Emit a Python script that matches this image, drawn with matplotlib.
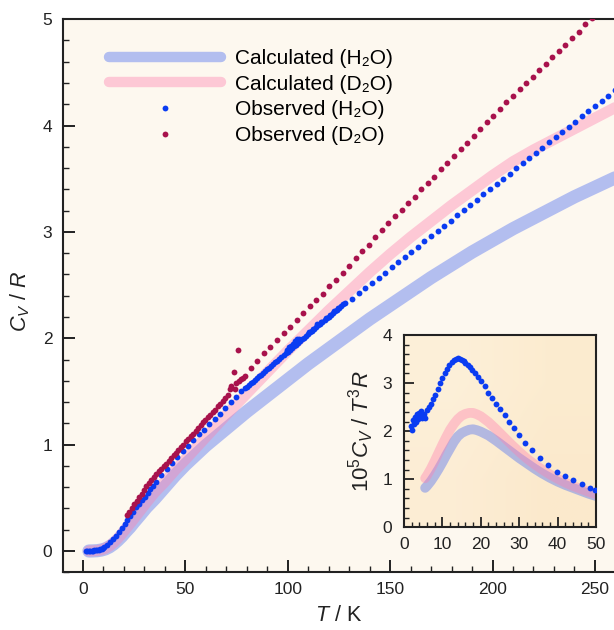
import numpy as np
import matplotlib
matplotlib.use('Agg')
import matplotlib.pyplot as plt
from matplotlib.lines import Line2D
from matplotlib.ticker import MultipleLocator

plt.rcParams['font.family'] = ['Liberation Sans', 'DejaVu Sans']
plt.rcParams['mathtext.fontset'] = 'custom'
plt.rcParams['mathtext.rm'] = 'Liberation Sans'
plt.rcParams['mathtext.it'] = 'Liberation Sans:italic'
plt.rcParams['mathtext.bf'] = 'Liberation Sans:bold'

# ---- main panel: Cv/R vs T ----
calc_T = [3, 5, 7, 9, 11, 13, 15, 17, 19, 21, 23, 25, 28, 31, 35, 40, 45, 50, 60, 70, 80, 90,
          100, 110, 120, 130, 140, 150, 160, 170, 180, 190, 200, 210, 220, 230, 240, 250, 260]
calc_h2o = [0.000, 0.001, 0.003, 0.009, 0.020, 0.039, 0.066, 0.100, 0.138, 0.183, 0.224, 0.272,
            0.34, 0.41, 0.49, 0.60, 0.71, 0.81, 0.99, 1.15, 1.31, 1.46, 1.61, 1.76, 1.90, 2.04,
            2.18, 2.31, 2.44, 2.57, 2.69, 2.81, 2.92, 3.03, 3.13, 3.23, 3.33, 3.42, 3.51]
calc_d2o = [0.000, 0.001, 0.004, 0.011, 0.025, 0.047, 0.078, 0.117, 0.161, 0.209, 0.256, 0.305,
            0.38, 0.455, 0.55, 0.65, 0.76, 0.86, 1.07, 1.28, 1.48, 1.68, 1.88, 2.07, 2.26, 2.44,
            2.62, 2.79, 2.95, 3.10, 3.25, 3.39, 3.53, 3.66, 3.77, 3.87, 3.97, 4.07, 4.17]

obs_h2o_T = [1.5, 2.2, 2.9, 3.6, 4.3, 5.0, 5.7, 6.4, 7.1, 7.8, 8.5, 9.2, 9.9,
             10.6, 12.0, 13.4, 14.8, 16.2, 17.6, 19.0, 20.4, 21.8, 23.2, 24.6, 26.0, 27.4, 28.8,
             30.2, 31.6, 33.0, 34.4, 35.8, 38.4, 41.0, 43.6, 46.2, 48.8, 51.4, 54.0, 56.6, 59.2,
             61.8, 64.4, 67.0, 69.6, 72.2, 74.8, 77.4,
             79.2, 80, 81, 82, 83, 84, 85, 86, 87, 88, 89, 90, 91, 92, 93, 94, 95, 96, 97, 98, 99,
             100, 101, 102, 103, 104, 105, 106, 107, 108, 109, 110, 111, 112, 113, 114, 115, 116,
             117, 118, 119, 120, 121, 122, 123, 124, 125, 126, 127, 128,
             99.5, 100.5, 101.5, 102.5, 103.5, 104.5, 105.5, 110.5, 112.5, 114.5, 116.5, 118.5,
             120.5, 122.5, 124.5,
             131.6, 134.8, 138.0, 141.2, 144.4, 147.6, 150.8, 154.0, 157.2, 160.4, 163.6, 166.8,
             170.0, 173.2, 176.4, 179.6, 182.8, 186.0, 189.2, 192.4, 195.6, 198.8, 202.0, 205.2,
             208.4, 211.6, 214.8, 218.0, 221.2, 224.4, 227.6, 230.8, 234.0, 237.2, 240.4, 243.6,
             246.8, 250.0, 253.2, 256.4, 259.6]
obs_h2o = [0.000, 0.000, 0.001, 0.001, 0.002, 0.003, 0.005, 0.007, 0.009, 0.013, 0.017, 0.023, 0.030,
           0.038, 0.059, 0.084, 0.113, 0.145, 0.179, 0.215, 0.254, 0.296, 0.332, 0.369, 0.413, 0.444,
           0.478, 0.507, 0.543, 0.582, 0.611, 0.647, 0.71, 0.77, 0.83, 0.88, 0.94, 0.99, 1.04, 1.10,
           1.14, 1.19, 1.24, 1.29, 1.34, 1.40, 1.45, 1.50,
           1.530, 1.543, 1.560, 1.576, 1.593, 1.609, 1.626, 1.642, 1.659, 1.675, 1.692, 1.708, 1.725,
           1.741, 1.758, 1.774, 1.791, 1.807, 1.824, 1.840, 1.857, 1.873, 1.890, 1.906, 1.923, 1.939,
           1.956, 1.972, 1.989, 2.005, 2.022, 2.038, 2.055, 2.071, 2.088, 2.104, 2.121, 2.137, 2.154,
           2.170, 2.187, 2.203, 2.220, 2.236, 2.253, 2.269, 2.286, 2.302, 2.319, 2.335,
           1.89, 1.92, 1.93, 1.95, 1.97, 1.99, 1.99, 2.06, 2.09, 2.13, 2.15, 2.19, 2.22, 2.26, 2.28,
           2.373, 2.422, 2.471, 2.520, 2.569, 2.618, 2.667, 2.716, 2.765, 2.813, 2.862, 2.911, 2.960,
           3.009, 3.058, 3.107, 3.156, 3.205, 3.254, 3.303, 3.352, 3.401, 3.450, 3.499, 3.548, 3.597,
           3.645, 3.694, 3.743, 3.792, 3.841, 3.890, 3.939, 3.988, 4.037, 4.086, 4.135, 4.184, 4.233,
           4.281, 4.330]

obs_d2o_T = [21.5, 22.7, 23.9, 25.1, 26.3, 27.5, 28.7, 29.9, 31.1, 32.3, 33.5, 34.7, 35.9, 37.1,
             38.3, 39.5, 40.7, 41.9, 43.1, 44.3, 45.5, 46.7, 47.9, 49.1, 50.3, 51.5, 52.7, 53.9,
             55.1, 56.3, 57.5, 58.7, 59.9, 61.1, 62.3, 63.5, 64.7, 65.9, 67.1, 68.3, 69.5, 70.7,
             71.9, 72.5, 73.8, 74.3, 75.0, 76.0, 76.4, 77.2, 78.0, 79.0,
             82.0, 85.2, 88.4, 91.6, 94.8, 98.0, 101.2, 104.4, 107.6, 110.8, 114.0, 117.2, 120.4,
             123.6, 126.8, 130.0, 133.2, 136.4, 139.6, 142.8, 146.0, 149.2, 152.4, 155.6, 158.8,
             162.0, 165.2, 168.4, 171.6, 174.8, 178.0, 181.2, 184.4, 187.6, 190.8, 194.0, 197.2,
             200.4, 203.6, 206.8, 210.0, 213.2, 216.4, 219.6, 222.8, 226.0, 229.2, 232.4, 235.6,
             238.8, 242.0, 245.2, 248.4]
obs_d2o = [0.34, 0.37, 0.40, 0.44, 0.47, 0.51, 0.54, 0.57, 0.61, 0.64, 0.67, 0.70, 0.72, 0.75,
           0.77, 0.80, 0.82, 0.85, 0.87, 0.90, 0.92, 0.95, 0.98, 1.00, 1.03, 1.05, 1.08, 1.10,
           1.13, 1.16, 1.18, 1.21, 1.23, 1.26, 1.28, 1.31, 1.33, 1.36, 1.38, 1.41, 1.44, 1.47,
           1.52, 1.55, 1.68, 1.52, 1.58, 1.89, 1.60, 1.62, 1.63, 1.65,
           1.72, 1.79, 1.86, 1.92, 1.98, 2.05, 2.11, 2.17, 2.24, 2.30, 2.36, 2.42, 2.49,
           2.55, 2.61, 2.68, 2.75, 2.82, 2.88, 2.95, 3.02, 3.08, 3.15, 3.21, 3.27,
           3.33, 3.40, 3.46, 3.52, 3.59, 3.65, 3.71, 3.78, 3.84, 3.90, 3.97, 4.03,
           4.09, 4.16, 4.22, 4.28, 4.34, 4.40, 4.46, 4.52, 4.58, 4.64, 4.70, 4.76,
           4.82, 4.88, 4.95, 5.01]

# ---- inset: 1e5 Cv / T^3 R vs T ----
in_calc_T = [5.5, 6, 7, 8, 9, 10, 11, 12, 13, 14, 15, 16, 17, 18, 19, 20, 22, 24, 26, 28, 30,
             32, 34, 36, 38, 40, 42, 44, 46, 48, 50]
in_calc_h2o = [0.82, 0.86, 0.96, 1.08, 1.21, 1.35, 1.50, 1.64, 1.78, 1.89, 1.96, 2.00, 2.03, 2.04,
               2.02, 1.99, 1.91, 1.80, 1.68, 1.56, 1.44, 1.33, 1.22, 1.12, 1.03, 0.95, 0.88, 0.82,
               0.76, 0.70, 0.65]
in_calc_d2o = [1.02, 1.08, 1.22, 1.38, 1.55, 1.72, 1.88, 2.03, 2.15, 2.25, 2.32, 2.36, 2.38, 2.38,
               2.35, 2.31, 2.19, 2.04, 1.88, 1.72, 1.57, 1.43, 1.31, 1.20, 1.10, 1.01, 0.93, 0.86,
               0.80, 0.74, 0.69]
in_obs_T = [1.8, 2.0, 2.3, 2.5, 2.8, 3.0, 3.3, 3.6, 3.9, 4.2, 4.5, 4.8, 5.1, 5.5, 5.9, 6.4, 7.0,
            7.6, 8.2, 8.8, 9.4, 10.0, 10.6, 11.2, 11.8, 12.4, 13.0, 13.5, 14.0, 14.5, 15.0, 15.5,
            16.0, 16.6, 17.2, 17.8, 18.5, 19.2, 20.0, 21.0, 22.0, 23.0, 24.0, 25.0, 26.2, 27.4,
            28.6, 30.0, 31.6, 33.4, 35.4, 37.6, 39.8, 41.9, 44.1, 46.3, 48.5, 49.7]
in_obs_h2o = [2.10, 2.03, 2.24, 2.15, 2.30, 2.20, 2.35, 2.25, 2.38, 2.30, 2.42, 2.28, 2.36, 2.27,
              2.44, 2.50, 2.57, 2.66, 2.76, 2.88, 3.00, 3.10, 3.20, 3.29, 3.37, 3.44, 3.48, 3.51,
              3.52, 3.51, 3.49, 3.46, 3.42, 3.38, 3.33, 3.27, 3.20, 3.12, 3.04, 2.93, 2.80, 2.68,
              2.56, 2.46, 2.33, 2.20, 2.06, 1.92, 1.76, 1.61, 1.45, 1.29, 1.16, 1.06, 0.98, 0.90,
              0.82, 0.78]

lav_c, lav_a = '#5a78f0', 0.45
pink_c, pink_a = '#ff80b0', 0.40
blue_c = '#0a3cf2'
red_c = '#a8124c'
ink = '#222222'

fig = plt.figure(figsize=(6.14, 6.30), dpi=100)
ax = fig.add_axes([0.1021, 0.0916, 0.8979, 0.878])
ax.set_facecolor('#fdf8ef')

ax.plot(calc_T, calc_h2o, color=lav_c, alpha=lav_a, lw=9.5, solid_capstyle='round', zorder=2)
ax.plot(calc_T, calc_d2o, color=pink_c, alpha=pink_a, lw=8, solid_capstyle='round', zorder=2)
ax.plot(obs_h2o_T, obs_h2o, 'o', ms=4.2, color=blue_c, mec='none', zorder=3)
ax.plot(obs_d2o_T, obs_d2o, 'o', ms=4.2, color=red_c, mec='none', zorder=3)

ax.set_xlim(-9.8, 259.3)
ax.set_ylim(-0.2, 5.0)
ax.xaxis.set_major_locator(MultipleLocator(50))
ax.xaxis.set_minor_locator(MultipleLocator(10))
ax.yaxis.set_major_locator(MultipleLocator(1))
ax.yaxis.set_minor_locator(MultipleLocator(0.2))
ax.tick_params(which='both', direction='in', top=False, right=False, colors=ink,
               labelsize=12.5, width=1.4)
ax.tick_params(which='major', length=8.6)
ax.tick_params(which='minor', length=4.3, width=1.0)
ax.tick_params(axis='x', pad=7)
ax.tick_params(axis='y', pad=7.5)
for s in ['left', 'bottom', 'top']:
    ax.spines[s].set_linewidth(1.5)
    ax.spines[s].set_color(ink)
ax.spines['right'].set_visible(False)

ax.set_xlabel(r'$T$ / K', fontsize=15.5, labelpad=6, color=ink)
ax.set_ylabel(r'$C_V$ / $R$', fontsize=15.5, color=ink)
ax.yaxis.set_label_coords(-0.056, 0.49)

handles = [
    Line2D([], [], color=lav_c, alpha=lav_a, lw=7.5, solid_capstyle='round'),
    Line2D([], [], color=pink_c, alpha=pink_a, lw=7.5, solid_capstyle='round'),
    Line2D([], [], ls='none', marker='o', ms=4.2, color=blue_c, mec='none'),
    Line2D([], [], ls='none', marker='o', ms=4.2, color=red_c, mec='none'),
]
labels = ['Calculated (H\u2082O)', 'Calculated (D\u2082O)', 'Observed (H\u2082O)', 'Observed (D\u2082O)']
ax.legend(handles, labels, loc='upper left', bbox_to_anchor=(0.084, 0.946), frameon=False,
          fontsize=15, handlelength=5.4, handletextpad=0.67, labelspacing=0.32,
          borderpad=0, borderaxespad=0, numpoints=1)

# inset
axin = fig.add_axes([404 / 614, (630 - 527.3) / 630, 192 / 614, 192.3 / 630])
grad = np.array([[[0.990, 0.930, 0.835], [0.985, 0.915, 0.800]],
                 [[0.992, 0.940, 0.850], [0.988, 0.925, 0.815]]])
axin.imshow(grad, extent=[0, 50, 0, 4], aspect='auto', origin='lower',
            interpolation='bilinear', zorder=0)
axin.plot(in_calc_T, in_calc_h2o, color=lav_c, alpha=lav_a, lw=7, solid_capstyle='round', zorder=2)
axin.plot(in_calc_T, in_calc_d2o, color=pink_c, alpha=pink_a, lw=7, solid_capstyle='round', zorder=2)
axin.plot(in_obs_T, in_obs_h2o, 'o', ms=4.2, color=blue_c, mec='none', zorder=3)
axin.set_xlim(0, 50)
axin.set_ylim(0, 4)
axin.xaxis.set_major_locator(MultipleLocator(10))
axin.xaxis.set_minor_locator(MultipleLocator(2))
axin.yaxis.set_major_locator(MultipleLocator(1))
axin.yaxis.set_minor_locator(MultipleLocator(0.2))
axin.tick_params(which='both', direction='in', top=False, right=False, colors=ink,
                 labelsize=12.5, width=1.3)
axin.tick_params(which='major', length=7)
axin.tick_params(which='minor', length=3.5, width=1.0)
axin.tick_params(axis='x', pad=7)
axin.tick_params(axis='y', pad=8.5)
for s in axin.spines.values():
    s.set_linewidth(1.5)
    s.set_color(ink)
axin.set_ylabel(r'$10^5C_V$ / $T^3R$', fontsize=16, labelpad=5, color=ink)

fig.savefig('out.png', dpi=100)
